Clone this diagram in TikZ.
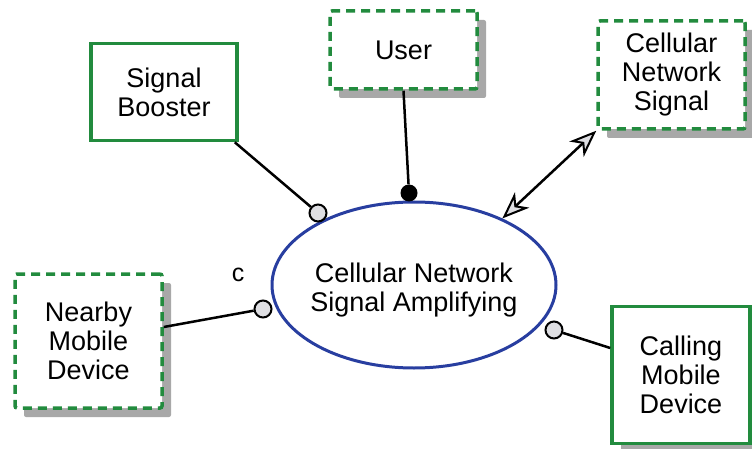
\documentclass[tikz,border=0pt]{standalone}
\usepackage{fontspec}
\setmainfont{Liberation Sans}
\usetikzlibrary{arrows.meta,shapes.geometric,shadows}
\definecolor{boxgreen}{RGB}{34,139,62}
\definecolor{ellblue}{RGB}{40,62,160}
\definecolor{shadowgray}{RGB}{168,168,168}
\definecolor{portgray}{RGB}{222,222,226}
\tikzset{
  actor/.style={draw=boxgreen, line width=3.5pt, fill=white, align=center, inner sep=0pt,
    font=\fontsize{27}{29}\selectfont},
  dashedactor/.style={actor, dash pattern=on 9pt off 6pt, rounded corners=2pt},
  shadowed/.style={drop shadow={shadow xshift=9pt, shadow yshift=-9pt, fill=shadowgray, opacity=1}},
  usecase/.style={ellipse, draw=ellblue, line width=3pt, fill=white, inner sep=0pt,
    minimum width=284pt, minimum height=166pt},
  usetext/.style={align=center, inner sep=0pt, font=\fontsize{27}{29}\selectfont},
  port/.style={circle, draw=black, line width=2pt, fill=portgray, minimum size=17pt, inner sep=0pt},
  dot/.style={circle, fill=black, minimum size=17pt, inner sep=0pt},
  link/.style={draw=black, line width=2.5pt},
  hollowtip/.tip={Stealth[length=27pt, width=21pt, inset=8pt, fill=portgray, line width=2pt]}
}
\begin{document}
\begin{tikzpicture}[x=1pt, y=-1pt]
\useasboundingbox (0,0) rectangle (752,449);
% boxes
\node[actor, minimum width=146pt, minimum height=97pt] (sb) at (164,92) {Signal\\Booster};
\node[dashedactor, shadowed, minimum width=147pt, minimum height=78pt] (user) at (403.5,50) {User};
\node[dashedactor, shadowed, minimum width=147pt, minimum height=108pt] (cns) at (671.5,75) {Cellular\\Network\\Signal};
\node[dashedactor, shadowed, minimum width=147pt, minimum height=134pt] (nmd) at (88.5,341) {Nearby\\Mobile\\Device};
\node[actor, shadowed, minimum width=138pt, minimum height=137pt] (cmd) at (681,375) {Calling\\Mobile\\Device};
% use case
\node[usecase] (amp) at (414,285) {};
\node[usetext] (ampt) at (414,290) {Cellular Network\\Signal Amplifying};
% ports
\node[port] (p1) at (318,213) {};
\node[dot] (p2) at (409,193) {};
\node[port] (p3) at (263,309) {};
\node[port] (p4) at (554,330) {};
% label
\node[font=\fontsize{25}{28}\selectfont] (lc) at (238,275) {c};
% connectors
\coordinate (nmdE) at ([yshift=14pt]nmd.east);
\coordinate (cmdW) at ([yshift=27pt]cmd.west);
\draw[link] ([xshift=-4pt]sb.south east) -- (p1);
\draw[link] (user.south) -- (p2);
\draw[link] (nmdE) -- (p3);
\draw[link] (cmdW) -- (p4);
\draw[link, {hollowtip}-{hollowtip}] (cns.south west) -- (amp.37.5);
\end{tikzpicture}
\end{document}
